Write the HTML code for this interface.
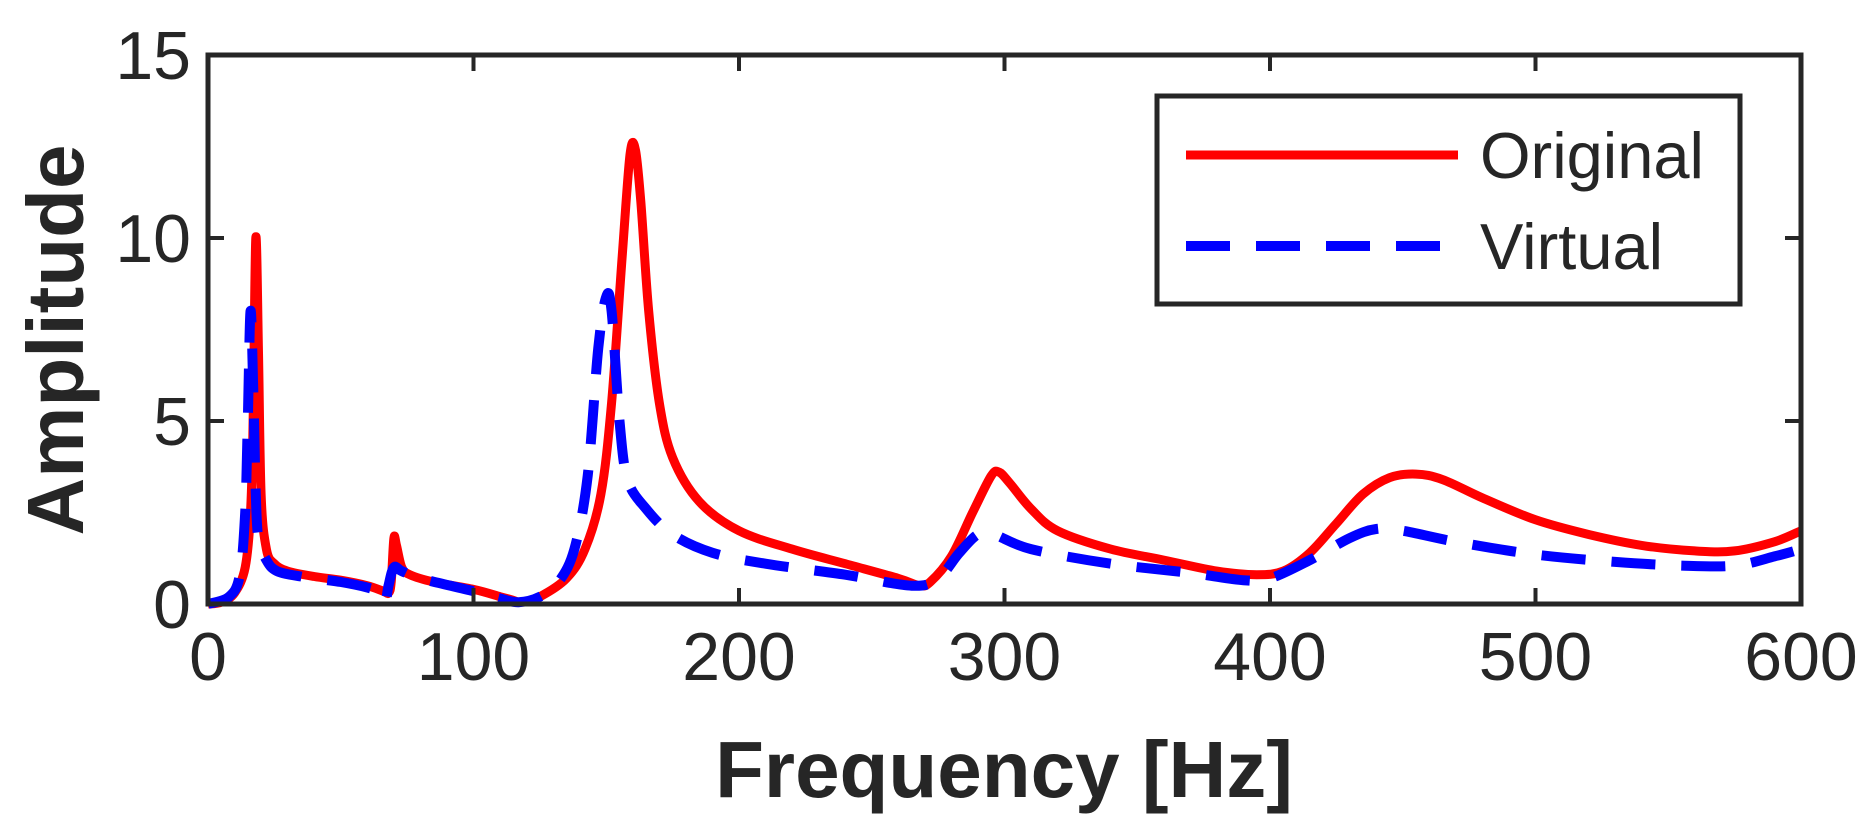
<!DOCTYPE html>
<html><head><meta charset="utf-8"><style>
html,body{margin:0;padding:0;background:#fff;}
svg{display:block;}
text{font-family:"Liberation Sans",Arial,sans-serif;fill:#262626;}
</style></head><body>
<svg id="s" width="1869" height="831" viewBox="0 0 1869 831" xmlns="http://www.w3.org/2000/svg">
<g id="curves"></g>
<rect x="208" y="55" width="1593" height="549" fill="none" stroke="#262626" stroke-width="5"/>
<g stroke="#262626" stroke-width="4">
<line x1="473.5" y1="604" x2="473.5" y2="588"/><line x1="739" y1="604" x2="739" y2="588"/><line x1="1004.5" y1="604" x2="1004.5" y2="588"/><line x1="1270" y1="604" x2="1270" y2="588"/><line x1="1535.5" y1="604" x2="1535.5" y2="588"/>
<line x1="473.5" y1="55" x2="473.5" y2="71"/><line x1="739" y1="55" x2="739" y2="71"/><line x1="1004.5" y1="55" x2="1004.5" y2="71"/><line x1="1270" y1="55" x2="1270" y2="71"/><line x1="1535.5" y1="55" x2="1535.5" y2="71"/>
<line x1="208" y1="421" x2="224" y2="421"/><line x1="208" y1="238" x2="224" y2="238"/>
<line x1="1801" y1="421" x2="1785" y2="421"/><line x1="1801" y1="238" x2="1785" y2="238"/>
</g>
<g font-size="68" text-anchor="middle">
<text x="208" y="680">0</text><text x="473.5" y="680">100</text><text x="739" y="680">200</text><text x="1004.5" y="680">300</text><text x="1270" y="680">400</text><text x="1535.5" y="680">500</text><text x="1801" y="680">600</text>
</g>
<g font-size="68" text-anchor="end">
<text x="191" y="628">0</text><text x="191" y="445">5</text><text x="191" y="262">10</text><text x="191" y="79">15</text>
</g>
<text x="1004" y="797" font-size="80" font-weight="bold" text-anchor="middle">Frequency [Hz]</text>
<text transform="translate(83,340) rotate(-90)" font-size="80" font-weight="bold" text-anchor="middle">Amplitude</text>
<rect x="1157" y="96" width="583" height="208" fill="#fff" stroke="#262626" stroke-width="5"/>
<line x1="1186" y1="155" x2="1458" y2="155" stroke="#ff0000" stroke-width="9"/>
<line x1="1186" y1="246" x2="1458" y2="246" stroke="#0000ff" stroke-width="10" stroke-dasharray="44,26"/>
<text x="1480" y="178" font-size="65">Original</text>
<text x="1480" y="269" font-size="65">Virtual</text>
</svg>
<script>
var red=[[0,0],[5,0.05],[10,0.3],[14,1],[16,2.5],[17,5],[18,10],[19,7],[20,3],[22,1.5],[25,1.1],[30,0.9],[40,0.75],[50,0.65],[60,0.5],[66,0.35],[68,0.3],[69,0.6],[70,1.8],[71,1.6],[73,1.0],[76,0.8],[85,0.6],[100,0.4],[110,0.2],[115,0.1],[118,0.05],[125,0.2],[135,0.7],[142,1.5],[148,3],[152,5.5],[156,9.5],[159,12.3],[161,12.4],[163,11],[166,8],[170,5.5],[175,4],[185,2.8],[200,2],[220,1.5],[240,1.1],[260,0.7],[268,0.5],[272,0.6],[280,1.3],[288,2.5],[295,3.5],[298,3.6],[302,3.3],[310,2.6],[320,2.0],[340,1.5],[360,1.2],[380,0.9],[395,0.8],[405,0.9],[415,1.4],[425,2.2],[435,3.0],[445,3.45],[455,3.55],[465,3.4],[480,2.9],[500,2.3],[520,1.9],[540,1.6],[560,1.45],[575,1.45],[590,1.7],[600,2.0]];
var blue=[[0,0],[8,0.2],[12,0.8],[14,2.5],[15,5],[16,8],[17,6],[18,3],[19,1.8],[22,1.2],[26,0.9],[35,0.75],[50,0.6],[60,0.45],[66,0.3],[67,0.1],[68,0.5],[70,1.0],[73,0.9],[80,0.7],[100,0.35],[110,0.15],[117,0.05],[125,0.2],[132,0.6],[138,1.5],[143,3.5],[147,7],[150,8.4],[152,8],[155,5],[158,3.4],[165,2.6],[175,1.9],[190,1.4],[210,1.1],[240,0.8],[265,0.5],[275,0.7],[283,1.4],[290,1.9],[296,1.9],[310,1.5],[340,1.1],[370,0.85],[390,0.65],[400,0.7],[415,1.2],[430,1.8],[440,2.05],[450,2.0],[470,1.7],[500,1.35],[530,1.15],[555,1.05],[575,1.05],[590,1.3],[600,1.5]];
function P(p){return [208+p[0]*2.655,604-p[1]*36.6];}
function path(a){
 var q=a.map(P),d="M"+q[0][0].toFixed(1)+","+q[0][1].toFixed(1);
 for(var i=0;i<q.length-1;i++){
  var p0=q[i>0?i-1:i],p1=q[i],p2=q[i+1],p3=q[i+2<q.length?i+2:i+1],t=6;
  var c1=[p1[0]+(p2[0]-p0[0])/t,p1[1]+(p2[1]-p0[1])/t];
  var c2=[p2[0]-(p3[0]-p1[0])/t,p2[1]-(p3[1]-p1[1])/t];
  d+=" C"+c1[0].toFixed(1)+","+c1[1].toFixed(1)+" "+c2[0].toFixed(1)+","+c2[1].toFixed(1)+" "+p2[0].toFixed(1)+","+p2[1].toFixed(1);
 }
 return d;
}
var g=document.getElementById("curves");
g.innerHTML='<path d="'+path(red)+'" fill="none" stroke="#ff0000" stroke-width="9" stroke-linejoin="round"/>'+
'<path d="'+path(blue)+'" fill="none" stroke="#0000ff" stroke-width="10" stroke-dasharray="44,26" stroke-linejoin="round"/>';
</script>
</body></html>
